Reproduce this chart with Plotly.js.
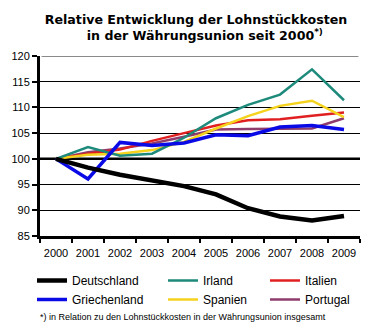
<!DOCTYPE html>
<html>
<head>
<meta charset="utf-8">
<script src="https://cdn.plot.ly/plotly-3.0.1.min.js"></script>
<style>html,body{margin:0;padding:0;background:#fff;}#chart{width:392px;height:329px;}</style>
</head>
<body>
<div id="chart"></div>
<script>
const years = ["2000","2001","2002","2003","2004","2005","2006","2007","2008","2009"];
const deutschland  = [100, 98.3, 96.9, 95.8, 94.7, 93.1, 90.4, 88.8, 88.0, 88.9];
const griechenland = [100, 96.1, 103.2, 102.6, 103.1, 104.7, 104.5, 106.2, 106.5, 105.7];
const irland       = [100, 102.3, 100.6, 101.0, 104.1, 107.9, 110.5, 112.5, 117.4, 111.4];
const spanien      = [100, 100.8, 101.0, 101.7, 103.3, 105.9, 108.3, 110.3, 111.3, 108.1];
const italien      = [100, 101.0, 101.8, 103.5, 105.0, 106.5, 107.5, 107.7, 108.4, 109.0];
const portugal     = [100, 101.3, 102.0, 103.0, 104.3, 105.7, 105.8, 105.9, 105.9, 107.9];
const yTicks = [85, 90, 95, 100, 105, 110, 115, 120];
const titleLine1 = "Relative Entwicklung der Lohnstückkosten";
const titleLine2 = "in der Währungsunion seit 2000";
const footnote = "*) in Relation zu den Lohnstückkosten in der Währungsunion insgesamt";

const mk = (name, y, color, width, legend) => ({
  type: 'scatter', mode: 'lines', x: years, y: y, name: name,
  line: {color: color, width: width}, legend: legend
});

const data = [
  mk('Portugal', portugal, '#8e3c6c', 2.5, 'legend3'),
  mk('Italien', italien, '#e02020', 2.5, 'legend3'),
  mk('Spanien', spanien, '#f5d21c', 2.5, 'legend2'),
  mk('Irland', irland, '#1d8a7b', 2.5, 'legend2'),
  mk('Griechenland', griechenland, '#0a0ae6', 3.5, 'legend'),
  mk('Deutschland', deutschland, '#000000', 4.5, 'legend'),
];

const tickFont = {family: 'Liberation Sans, Arial, sans-serif', size: 11, color: '#000'};
const legFont = {family: 'Liberation Sans, Arial, sans-serif', size: 12, color: '#000'};
const legCommon = {orientation: 'v', xref: 'container', yref: 'container', xanchor: 'left', yanchor: 'top',
  y: 1 - 266/329, font: legFont, traceorder: 'reversed', bgcolor: 'rgba(0,0,0,0)', tracegroupgap: 0,
  itemwidth: 30};

const layout = {
  width: 392, height: 329,
  margin: {l: 40, r: 32, t: 56, b: 93, autoexpand: false},
  paper_bgcolor: '#fff', plot_bgcolor: '#fff',
  showlegend: true,
  title: {
    text: '<b>' + titleLine1 + '</b><br><b>\u00a0\u00a0\u00a0\u00a0' + titleLine2 + '<sup>*)</sup></b>',
    font: {family: 'DejaVu Sans, Verdana, sans-serif', size: 12.6, color: '#000'},
    x: 0.5, xref: 'container', y: 1 - 24/329, yref: 'container', yanchor: 'top', automargin: false
  },
  xaxis: {
    type: 'category', range: [-0.5, 9.5], tickson: 'boundaries',
    ticks: 'outside', ticklen: 4, tickwidth: 2, tickcolor: '#000',
    showline: true, linecolor: '#000', linewidth: 3, showgrid: false,
    tickfont: tickFont, tickangle: 0, ticklabelstandoff: 5, fixedrange: true
  },
  yaxis: {
    range: [85, 120], tickvals: yTicks, ticks: 'outside', ticklen: 5, tickwidth: 2, tickcolor: '#000',
    showline: true, linecolor: '#000', linewidth: 3, showgrid: true, gridcolor: '#000', gridwidth: 1,
    zeroline: false, tickfont: tickFont, fixedrange: true
  },
  yaxis2: {
    range: [85, 120], tickvals: yTicks, overlaying: 'y', side: 'right', anchor: 'x',
    ticks: 'outside', ticklen: 5, tickwidth: 2, tickcolor: '#000',
    showline: true, linecolor: '#000', linewidth: 3, showgrid: false, zeroline: false,
    tickfont: tickFont, fixedrange: true
  },
  shapes: [
    {type: 'line', xref: 'paper', yref: 'y', x0: 0, x1: 1, y0: 100, y1: 100, line: {color: '#000', width: 2.5}, layer: 'below'},
    {type: 'line', xref: 'paper', yref: 'y', x0: 0.005, x1: 0.995, y0: 120, y1: 120, line: {color: '#8a8a8a', width: 2}, layer: 'above'}
  ],
  legend: Object.assign({}, legCommon, {x: 32/392}),
  legend2: Object.assign({}, legCommon, {x: 163/392}),
  legend3: Object.assign({}, legCommon, {x: 265/392}),
  annotations: [{
    text: footnote, xref: 'paper', yref: 'paper', x: (38 - 40) / 320, y: (236 - 317) / 180,
    xanchor: 'left', yanchor: 'middle', showarrow: false,
    font: {family: 'Liberation Sans, Arial, sans-serif', size: 9, color: '#000'}
  }]
};

Plotly.newPlot('chart', data, layout, {staticPlot: true, displayModeBar: false});
</script>
</body>
</html>
